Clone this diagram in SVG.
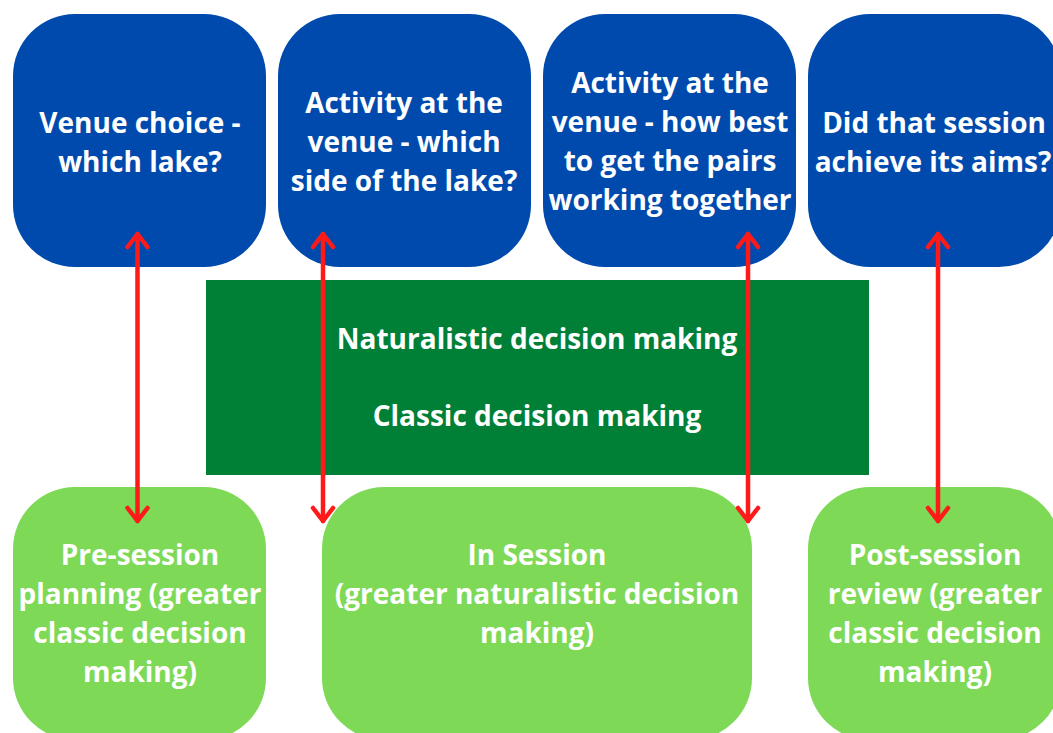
<svg xmlns="http://www.w3.org/2000/svg" width="1053" height="733" viewBox="0 0 1053 733">
<defs>
<style>
.blue{fill:#004AAD}
.lg{fill:#7ED957}
.dg{fill:#008037}
text{font-family:"Open Sans","Liberation Sans",sans-serif;font-weight:700;font-size:28px;fill:#ffffff;text-anchor:middle}
.arr{stroke:#FF1A1A;stroke-width:4.5;fill:none;stroke-linecap:round;stroke-linejoin:round}
</style>
<marker id="ah" viewBox="-16 -13 20 26" refX="0" refY="0" markerWidth="20" markerHeight="26" markerUnits="userSpaceOnUse" orient="auto-start-reverse">
<path d="M-13,-10 L0,0 L-13,10" stroke="#FF1A1A" stroke-width="4.5" fill="none" stroke-linecap="round" stroke-linejoin="round"/>
</marker>
</defs>
<rect width="1053" height="733" fill="#ffffff"/>
<g id="venue-choice">
<rect class="blue" x="13" y="14" width="253" height="253" rx="62"/>
<text x="140" y="133">Venue choice -</text>
<text x="140" y="172">which lake?</text>
</g>
<g id="activity-side">
<rect class="blue" x="278" y="14" width="253" height="253" rx="62"/>
<text x="404" y="113">Activity at the</text>
<text x="404" y="152">venue - which</text>
<text x="404" y="191">side of the lake?</text>
</g>
<g id="activity-pairs">
<rect class="blue" x="543" y="14" width="253" height="253" rx="62"/>
<text x="670" y="93">Activity at the</text>
<text x="670" y="132">venue - how best</text>
<text x="670" y="171">to get the pairs</text>
<text x="670" y="210">working together</text>
</g>
<g id="session-aims">
<rect class="blue" x="808" y="14" width="253" height="253" rx="62"/>
<text x="934" y="133">Did that session</text>
<text x="933" y="172">achieve its aims?</text>
</g>
<g id="decision-making">
<rect class="dg" x="206" y="280" width="663" height="195"/>
<text x="537" y="349">Naturalistic decision making</text>
<text x="537" y="426">Classic decision making</text>
</g>
<g id="pre-session">
<rect class="lg" x="13" y="487" width="253" height="253" rx="62"/>
<text x="140" y="565">Pre-session</text>
<text x="140" y="604">planning (greater</text>
<text x="140" y="643">classic decision</text>
<text x="140" y="682">making)</text>
</g>
<g id="in-session">
<rect class="lg" x="322" y="487" width="430" height="253" rx="62"/>
<text x="537" y="565">In Session</text>
<text x="537" y="604">(greater naturalistic decision</text>
<text x="537" y="643">making)</text>
</g>
<g id="post-session">
<rect class="lg" x="808" y="487" width="253" height="253" rx="62"/>
<text x="935" y="565">Post-session</text>
<text x="935" y="604">review (greater</text>
<text x="935" y="643">classic decision</text>
<text x="935" y="682">making)</text>
</g>
<g id="connectors">
<line class="arr" x1="137.5" y1="234" x2="137.5" y2="521" marker-start="url(#ah)" marker-end="url(#ah)"/>
<line class="arr" x1="323" y1="234" x2="323" y2="521" marker-start="url(#ah)" marker-end="url(#ah)"/>
<line class="arr" x1="748" y1="234" x2="748" y2="521" marker-start="url(#ah)" marker-end="url(#ah)"/>
<line class="arr" x1="938" y1="234" x2="938" y2="521" marker-start="url(#ah)" marker-end="url(#ah)"/>
</g>
</svg>
